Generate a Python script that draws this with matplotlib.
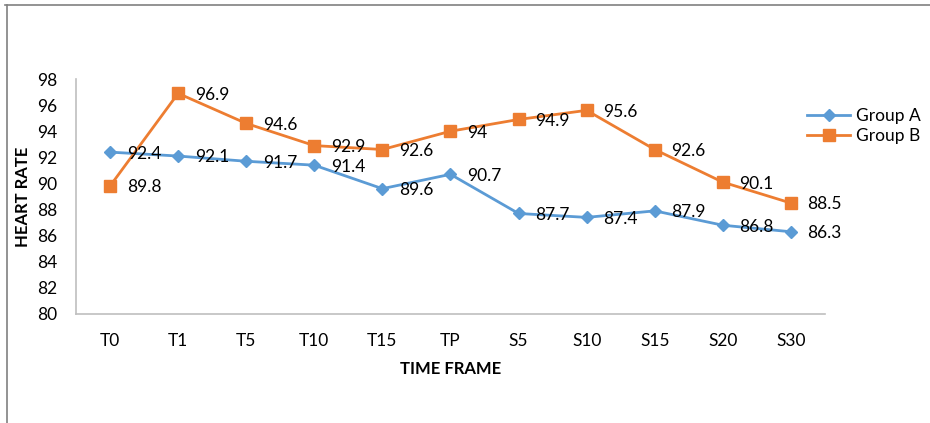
import matplotlib
matplotlib.use('Agg')
import matplotlib.pyplot as plt
from matplotlib.lines import Line2D

plt.rcParams['font.family'] = ['Lato', 'DejaVu Sans']

time_frames = ['T0', 'T1', 'T5', 'T10', 'T15', 'TP', 'S5', 'S10', 'S15', 'S20', 'S30']
group_a = [92.4, 92.1, 91.7, 91.4, 89.6, 90.7, 87.7, 87.4, 87.9, 86.8, 86.3]
group_b = [89.8, 96.9, 94.6, 92.9, 92.6, 94, 94.9, 95.6, 92.6, 90.1, 88.5]
y_ticks = [80, 82, 84, 86, 88, 90, 92, 94, 96, 98]

blue = '#5B9BD5'
orange = '#ED7D31'

fig = plt.figure(figsize=(9.3, 4.23), dpi=100)
ax = fig.add_axes([0.0817, 0.2577, 0.8053, 0.5555])

x = range(len(time_frames))
ax.plot(x, group_a, color=blue, lw=2.0, marker='D', ms=6.5, label='Group A')
ax.plot(x, group_b, color=orange, lw=2.0, marker='s', ms=8, label='Group B')

# value labels to the right of each point
for i, v in enumerate(group_a):
    ax.annotate('%g' % v, (i, v), xytext=(12, -1), textcoords='offset points',
                ha='left', va='center', fontsize=12.5, color='#000000')
for i, v in enumerate(group_b):
    ax.annotate('%g' % v, (i, v), xytext=(12, -1), textcoords='offset points',
                ha='left', va='center', fontsize=12.5, color='#000000')

ax.set_xlim(-0.5, len(time_frames) - 0.5)
ax.set_ylim(80, 98)
ax.set_yticks(y_ticks)
ax.set_xticks(list(x))
ax.set_xticklabels(time_frames)
ax.tick_params(axis='both', length=0, labelsize=12.5, colors='#000000')
ax.tick_params(axis='x', pad=14)
ax.tick_params(axis='y', pad=13.5)

for side in ['top', 'right']:
    ax.spines[side].set_visible(False)
for side in ['left', 'bottom']:
    ax.spines[side].set_color('#BFBFBF')
    ax.spines[side].set_linewidth(1.2)

ax.set_xlabel('TIME FRAME', fontsize=12, fontweight='bold', labelpad=8)
ax.set_ylabel('HEART RATE', fontsize=12, fontweight='bold', labelpad=4)

handles = [Line2D([], [], color=blue, lw=2.0, marker='D', ms=6.5),
           Line2D([], [], color=orange, lw=2.0, marker='s', ms=8)]
fig.legend(handles, ['Group A', 'Group B'], loc='upper left',
           bbox_to_anchor=(0.851, 0.782), frameon=False, fontsize=12.5,
           handlelength=2.5, handletextpad=0.3, labelspacing=0.25)

# outer frame lines (top and left)
fig.add_artist(Line2D([0.005, 1.0], [0.988, 0.988], color='#808080', lw=1.2))
fig.add_artist(Line2D([0.007, 0.007], [0.0, 0.988], color='#808080', lw=1.2))

fig.savefig('out.png', dpi=100)
